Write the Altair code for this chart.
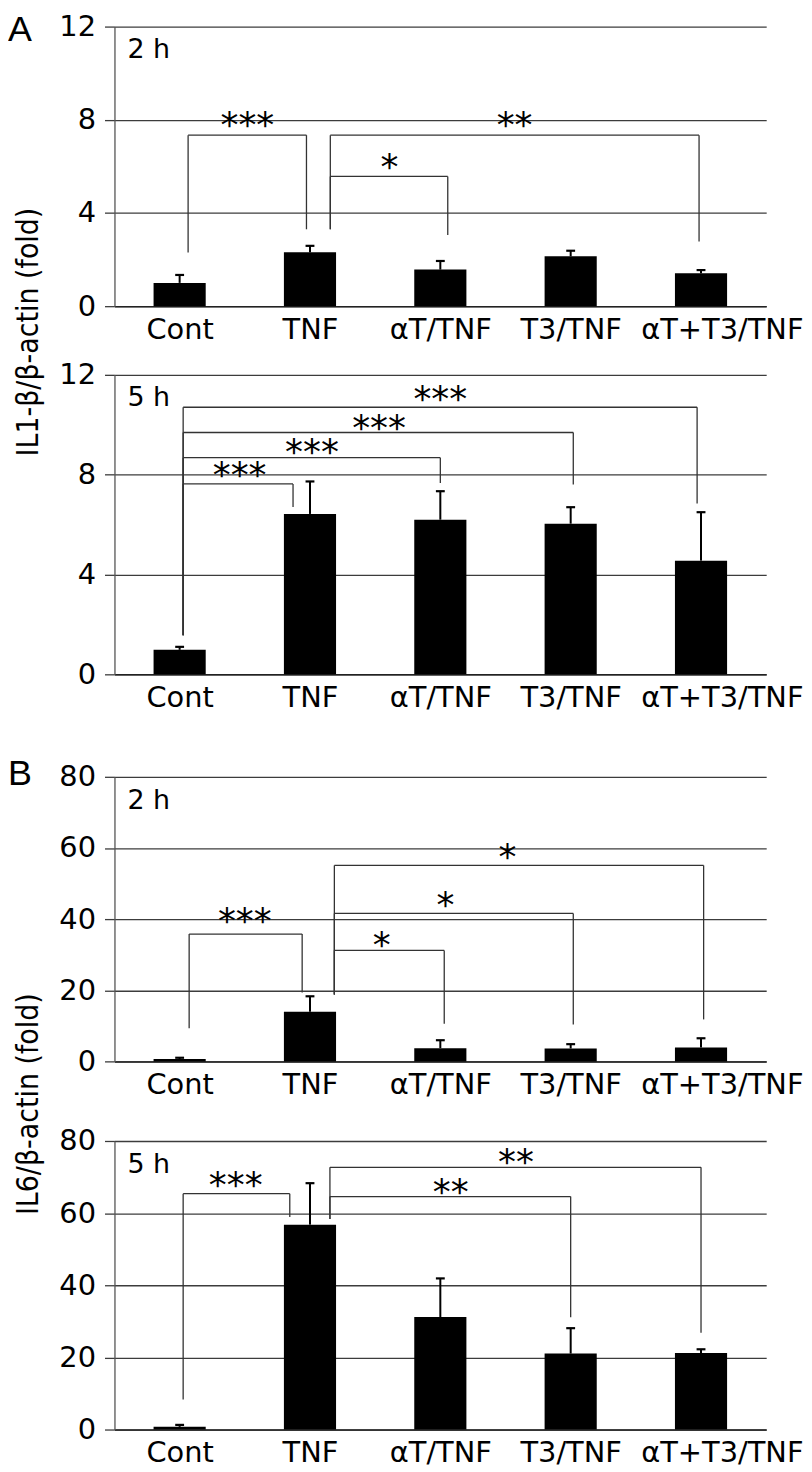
import altair as alt
import pandas as pd

# ---------------- data ----------------
categories = ["Cont", "TNF", "αT/TNF", "T3/TNF", "αT+T3/TNF"]

# IL1-β / β-actin (fold), 2 h
il1_2h_mean = [1.00, 2.31, 1.57, 2.14, 1.41]
il1_2h_sd = [0.34, 0.28, 0.37, 0.24, 0.14]
# IL1-β / β-actin (fold), 5 h
il1_5h_mean = [0.98, 6.42, 6.19, 6.03, 4.55]
il1_5h_sd = [0.12, 1.30, 1.14, 0.66, 1.94]
# IL6 / β-actin (fold), 2 h
il6_2h_mean = [0.65, 13.95, 3.72, 3.63, 3.90]
il6_2h_sd = [0.37, 4.35, 2.23, 1.21, 2.60]
# IL6 / β-actin (fold), 5 h
il6_5h_mean = [0.74, 56.8, 31.2, 21.06, 21.2]
il6_5h_sd = [0.55, 11.5, 10.7, 7.04, 1.05]

# significance brackets: left x, right x, bracket level, left-leg end, right-leg end
il1_2h_br = {"xl": [0.565, 1.656, 1.656], "xr": [1.473, 2.557, 4.485],
             "lev": [7.34, 5.57, 7.34], "yl": [2.3, 3.3, 3.3], "yr": [3.3, 3.06, 2.78]}
il1_2h_st = {"t": ["***", "*", "**"], "x": [1.02, 2.11, 3.07], "y": [8.16, 6.37, 8.16]}

il1_5h_br = {"xl": [0.527, 0.527, 0.527, 0.527], "xr": [1.37, 2.50, 3.52, 4.47],
             "lev": [7.62, 8.67, 9.68, 10.69], "yl": [1.56, 1.56, 1.56, 1.56],
             "yr": [6.70, 7.66, 7.60, 6.84]}
il1_5h_st = {"t": ["***", "***", "***", "***"], "x": [0.96, 1.515, 2.03, 2.50],
             "y": [8.33, 9.26, 10.22, 11.38]}

il6_2h_br = {"xl": [0.573, 1.687, 1.687, 1.687], "xr": [1.44, 2.53, 3.52, 4.52],
             "lev": [35.8, 31.2, 41.6, 55.1], "yl": [9.3, 18.8, 18.8, 18.8],
             "yr": [19.35, 10.6, 10.4, 11.8]}
il6_2h_st = {"t": ["***", "*", "*", "*"], "x": [1.0, 2.05, 2.54, 3.015],
             "y": [41.9, 35.3, 46.5, 60.0]}

il6_5h_br = {"xl": [0.527, 1.653, 1.653], "xr": [1.345, 3.50, 4.50],
             "lev": [65.4, 64.6, 72.7], "yl": [8.3, 58.4, 58.4], "yr": [58.9, 31.1, 26.8]}
il6_5h_st = {"t": ["***", "**", "**"], "x": [0.93, 2.58, 3.08], "y": [70.2, 68.3, 76.6]}

title_a = "IL1-β/β-actin (fold)"
title_b = "IL6/β-actin (fold)"

# ---------------- chart building ----------------
W = 655
LABEL_POS = [0.5, 1.5, 2.5, 3.5, 4.66]
label_expr = "[" + ",".join("'" + c + "'" for c in categories) + "][floor(datum.value)]"
X_SCALE = alt.Scale(domain=[0, 5], nice=False, zero=False)
FONT = "DejaVu Sans"
LINE = "#333333"
STAR_SIZE = 36


def panel(mean, sd, br, st, ymax, ystep, cell_h, plot_top, tlabel,
          letter=None, letter_y=None, ytitle=None, ytitle_y=None):
    n = len(categories)
    df = pd.DataFrame({"cat": categories, "idx": list(range(n)), "mean": mean, "sd": sd})
    df["c"] = df["idx"] + 0.5
    df["lo"] = df["c"] - 0.2
    df["hi"] = df["c"] + 0.2
    df["top"] = df["mean"] + df["sd"]
    df["cl"] = df["c"] - 0.034
    df["cr"] = df["c"] + 0.034

    xaxis = alt.Axis(values=LABEL_POS, labelExpr=label_expr, ticks=False, grid=False,
                     domainColor="#222222", domainWidth=1.5, labelFont=FONT,
                     labelFontSize=29, labelColor="#000000", labelPadding=9,
                     labelAngle=0, labelOverlap=False, title=None)
    yaxis = alt.Axis(values=list(range(0, ymax + 1, ystep)), format="d", grid=True,
                     gridColor="#3c3c3c", gridWidth=1.3, domainColor="#555555",
                     domainWidth=1.3, tickColor="#3c3c3c", tickSize=10, tickWidth=1.3,
                     labelFont=FONT, labelFontSize=29, labelColor="#000000",
                     labelPadding=9, title=None)
    yscale = alt.Scale(domain=[0, ymax], range=[cell_h, plot_top], nice=False, zero=True)

    def X(f):
        return alt.X(f, type="quantitative", scale=X_SCALE, axis=xaxis, title=None)

    def Y(f):
        return alt.Y(f, type="quantitative", scale=yscale, axis=yaxis, title=None)

    base = alt.Chart(df)
    bars = base.mark_bar(color="#000000").encode(
        x=X("lo"), x2="hi", y=Y("mean"), y2=alt.datum(0))
    err = base.mark_rule(color="#000000", strokeWidth=2).encode(
        x=X("c"), y=Y("mean"), y2="top")
    cap = base.mark_rule(color="#000000", strokeWidth=2.2).encode(
        x=X("cl"), x2="cr", y=Y("top"))

    bdf = pd.DataFrame(br)
    bb = alt.Chart(bdf)
    hline = bb.mark_rule(color=LINE, strokeWidth=1.3).encode(x=X("xl"), x2="xr", y=Y("lev"))
    lleg = bb.mark_rule(color=LINE, strokeWidth=1.3).encode(x=X("xl"), y=Y("yl"), y2="lev")
    rleg = bb.mark_rule(color=LINE, strokeWidth=1.3).encode(x=X("xr"), y=Y("yr"), y2="lev")

    sdf = pd.DataFrame(st)
    stars = alt.Chart(sdf).mark_text(font=FONT, fontSize=STAR_SIZE, color="#000000",
                                     baseline="alphabetic", align="center",
                                     dy=round(0.575 * STAR_SIZE)).encode(
        x=X("x"), y=Y("y"), text="t:N")

    tl = alt.Chart(pd.DataFrame({"t": [tlabel]})).mark_text(
        font=FONT, fontSize=27, color="#000000", align="left", baseline="alphabetic").encode(
        x=alt.value(13), y=alt.value(plot_top + 32), text="t:N")

    layers = [bars, err, cap, hline, lleg, rleg, stars, tl]
    if letter is not None:
        layers.append(alt.Chart(pd.DataFrame({"t": [letter]})).mark_text(
            font="Liberation Sans", fontSize=36, color="#000000", align="left",
            baseline="alphabetic").encode(x=alt.value(-107), y=alt.value(letter_y), text="t:N"))
    if ytitle is not None:
        layers.append(alt.Chart(pd.DataFrame({"t": [ytitle]})).mark_text(
            font="DejaVu Sans Condensed", fontSize=30, color="#000000", align="center",
            baseline="alphabetic", angle=270).encode(
            x=alt.value(-77), y=alt.value(ytitle_y), text="t:N"))
    return alt.layer(*layers).properties(width=W, height=cell_h)


a1 = panel(il1_2h_mean, il1_2h_sd, il1_2h_br, il1_2h_st, 12, 4, 281, 0, "2 h",
           letter="A", letter_y=14, ytitle=title_a, ytitle_y=307)
a2 = panel(il1_5h_mean, il1_5h_sd, il1_5h_br, il1_5h_st, 12, 4, 310, 8.7, "5 h")
b1 = panel(il6_2h_mean, il6_2h_sd, il6_2h_br, il6_2h_st, 80, 20, 329, 43, "2 h",
           letter="B", letter_y=51, ytitle=title_b, ytitle_y=372)
b2 = panel(il6_5h_mean, il6_5h_sd, il6_5h_br, il6_5h_st, 80, 20, 310, 20, "5 h")

chart = alt.vconcat(a1, a2, b1, b2, spacing=60, bounds="flush").properties(
    padding=0, background="#ffffff"
).configure_view(stroke=None)

chart.save("out.html", embed_options={"renderer": "svg", "actions": False})
